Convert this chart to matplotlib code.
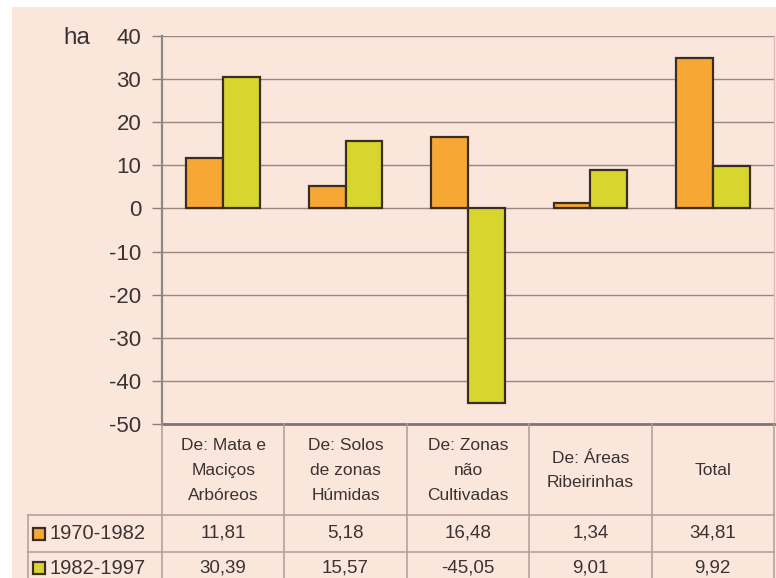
import matplotlib
matplotlib.use("Agg")
import matplotlib.pyplot as plt
from matplotlib.patches import Rectangle
from matplotlib.lines import Line2D

# ---- data ----
categories = ["De: Mata e\nMaciços\nArbóreos", "De: Solos\nde zonas\nHúmidas",
              "De: Zonas\nnão\nCultivadas", "De: Áreas\nRibeirinhas", "Total"]
series_names = ["1970-1982", "1982-1997"]
s1970_1982 = [11.81, 5.18, 16.48, 1.34, 34.81]
s1982_1997 = [30.39, 15.57, -45.05, 9.01, 9.92]
yticks = [40, 30, 20, 10, 0, -10, -20, -30, -40, -50]
unit_label = "ha"

# ---- style ----
W, H = 776, 578
BG = "#fbe6dc"
ORANGE = "#f7a834"
GREEN = "#d8d62e"
EDGE = "#3a2e22"
GRID = "#9a8682"
TXT = "#3b3333"
TLINE = "#b49a98"
FONT = "Liberation Sans"

def fx(px): return px / W
def fy(py): return 1 - py / H

fig = plt.figure(figsize=(W / 100, H / 100), dpi=100, facecolor="white")
bgrect = Rectangle((fx(12), 0), 1 - fx(12), fy(7), transform=fig.transFigure,
                   facecolor=BG, edgecolor="none", zorder=-10)
fig.add_artist(bgrect)

L, R, T, B = 162, 774, 36, 424
ax = fig.add_axes([fx(L), fy(B), (R - L) / W, (B - T) / H])
ax.set_zorder(1)
ax.set_facecolor(BG)
ax.set_xlim(-0.5, len(categories) - 0.5)
ax.set_ylim(min(yticks), max(yticks))

x = list(range(len(categories)))
bw = 0.3
ax.bar([i - bw / 2 for i in x], s1970_1982, width=bw, color=ORANGE, edgecolor=EDGE,
       linewidth=1.6, zorder=3, label=series_names[0])
ax.bar([i + bw / 2 for i in x], s1982_1997, width=bw, color=GREEN, edgecolor=EDGE,
       linewidth=1.6, zorder=3, label=series_names[1])

ax.set_yticks(yticks)
ax.set_yticklabels([str(t) for t in yticks], fontsize=16, family=FONT, color=TXT)
ax.tick_params(axis="y", length=7, width=1, color="#8a8080", pad=8)
ax.set_xticks([])
for t in yticks:
    ax.axhline(t, color=GRID, lw=1.0, zorder=1)
ax.spines["top"].set_visible(False)
ax.spines["left"].set_color("#8c8888")
ax.spines["left"].set_linewidth(1.6)
ax.spines["bottom"].set_color("#7d7575")
ax.spines["bottom"].set_linewidth(2)
ax.spines["right"].set_color("#e0b8b8")
ax.spines["right"].set_linewidth(1)

fig.text(fx(77), fy(38), unit_label, fontsize=17.5, family=FONT, color=TXT,
         ha="center", va="center")

# ---- data table below ----
tab_top, row1, row2, tab_bot = B, 515, 552, 590
col_edges = [L + i * (R - L) / len(categories) for i in range(len(categories) + 1)]
line_kw = dict(transform=fig.transFigure, color=TLINE, lw=1.1, zorder=5)
for xe in col_edges:
    fig.add_artist(Line2D([fx(xe), fx(xe)], [fy(tab_top), fy(tab_bot)], **line_kw))
fig.add_artist(Line2D([fx(28), fx(28)], [fy(row1), fy(tab_bot)], **line_kw))
for yy in (row1, row2):
    fig.add_artist(Line2D([fx(28), fx(R)], [fy(yy), fy(yy)], **line_kw))

def fmt(v):
    return f"{v:.2f}".replace(".", ",")

for i, cat in enumerate(categories):
    cx = (col_edges[i] + col_edges[i + 1]) / 2
    fig.text(fx(cx), fy((tab_top + row1) / 2 + 1), cat, fontsize=12.5, family=FONT,
             color=TXT, ha="center", va="center", linespacing=1.8)
    fig.text(fx(cx), fy((row1 + row2) / 2), fmt(s1970_1982[i]), fontsize=13.5,
             family=FONT, color=TXT, ha="center", va="center")
    fig.text(fx(cx), fy((row2 + tab_bot) / 2 - 3), fmt(s1982_1997[i]), fontsize=13.5,
             family=FONT, color=TXT, ha="center", va="center")

for (yc, name, col) in [((row1 + row2) / 2, series_names[0], ORANGE),
                        ((row2 + tab_bot) / 2 - 3, series_names[1], GREEN)]:
    fig.add_artist(Rectangle((fx(33), fy(yc + 6)), 12 / W, 12 / H,
                             transform=fig.transFigure, facecolor=col,
                             edgecolor=EDGE, lw=1.6, zorder=6))
    fig.text(fx(50), fy(yc), name, fontsize=14.5, family=FONT, color=TXT,
             ha="left", va="center")

fig.savefig("out.png", dpi=100, facecolor="white")
